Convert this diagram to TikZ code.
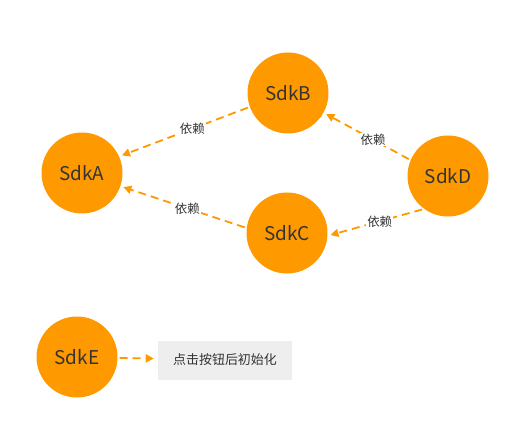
\documentclass[tikz,border=0pt]{standalone}
\usepackage{fontspec}
\setmainfont{Noto Sans CJK SC}
\usetikzlibrary{arrows.meta,positioning}
\definecolor{sdkorange}{HTML}{FF9900}
\definecolor{sdktext}{HTML}{333333}
\definecolor{notegray}{HTML}{EEEEEE}
\tikzset{
        % Sdk nodes
        node_sdk/.style={circle, fill=sdkorange, text=sdktext, minimum size=81bp, inner sep=0pt, font=\fontsize{19}{22}\selectfont},
        % Note box
        node_note/.style={rectangle, fill=notegray, text=sdktext, minimum width=134bp, minimum height=39bp, font=\fontsize{13}{15}\selectfont},
        % Dependency edges
        edge_dep/.style={-{Triangle[length=8bp,width=8bp]}, sdkorange, line width=1.8bp, dash pattern=on 8bp off 5bp, shorten >=3bp, shorten <=2bp},
        % Edge labels
        label_dep/.style={fill=white, text=sdktext, inner sep=1pt, font=\fontsize{12.5}{14}\selectfont}
}
\begin{document}
\begin{tikzpicture}[x=1bp, y=-1bp]
    \useasboundingbox (0,0) rectangle (523,437);
    \node[node_sdk] (A) at (82,173) {SdkA};
    \node[node_sdk] (B) at (288,93) {SdkB};
    \node[node_sdk] (C) at (287,233) {SdkC};
    \node[node_sdk] (D) at (448,176) {SdkD};
    \node[node_sdk] (E) at (77,357) {SdkE};
    \node[node_note] (N) at (225,360) {点击按钮后初始化};

    \draw[edge_dep] (B.200) -- node[label_dep, pos=0.44] {依赖} (A.24);
    \draw[edge_dep] (C.173) -- node[label_dep, pos=0.47] {依赖} (A.341);
    \draw[edge_dep] (D.157) -- node[label_dep, pos=0.43] {依赖} (B.331);
    \draw[edge_dep] (D.234) -- node[label_dep, pos=0.46] {依赖} (C.356);
    \draw[edge_dep, shorten >=4bp] (E) -- (N);
\end{tikzpicture}
\end{document}
